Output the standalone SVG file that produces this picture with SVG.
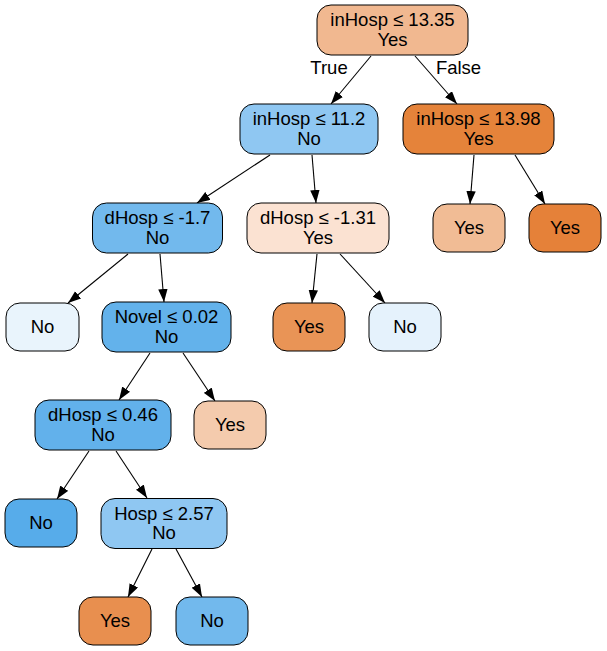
<svg xmlns="http://www.w3.org/2000/svg" width="607" height="651" viewBox="0 0 607 651">
<style>
.n rect{stroke:#000;stroke-width:1}
text{font-family:"Liberation Sans",Arial,sans-serif;font-size:18.5px;fill:#000;text-anchor:middle}
.e line{stroke:#000;stroke-width:1.1;marker-end:url(#ah)}
</style>
<defs>
<marker id="ah" markerUnits="userSpaceOnUse" markerWidth="14" markerHeight="10" refX="13" refY="4.7" orient="auto">
<path d="M0,0 L13,4.7 L0,9.4 z" fill="#000"/>
</marker>
</defs>
<rect width="607" height="651" fill="#fff"/>
<g id="edges" class="e">
<line x1="371" y1="56" x2="331" y2="104"/>
<line x1="415" y1="56" x2="457" y2="104"/>
<line x1="270" y1="155" x2="197" y2="203"/>
<line x1="312" y1="155" x2="316" y2="203"/>
<line x1="474" y1="155" x2="470" y2="204"/>
<line x1="515" y1="155" x2="545" y2="204"/>
<line x1="128" y1="254" x2="68" y2="303"/>
<line x1="160" y1="254" x2="164" y2="302"/>
<line x1="317" y1="254" x2="312" y2="303"/>
<line x1="340" y1="254" x2="385" y2="303"/>
<line x1="150" y1="353" x2="119" y2="400"/>
<line x1="183" y1="353" x2="215" y2="401"/>
<line x1="89" y1="451" x2="57" y2="499"/>
<line x1="116" y1="451" x2="147" y2="498"/>
<line x1="152" y1="549" x2="128" y2="597"/>
<line x1="176" y1="549" x2="202" y2="597"/>
<text x="329" y="74">True</text>
<text x="458.5" y="74">False</text>
</g>
<g id="n0" class="n"><rect x="317" y="5" width="151" height="50" rx="14" fill="#f1b890"/><text x="392.5" y="26">inHosp ≤ 13.35</text><text x="392.5" y="45.5">Yes</text></g>
<g id="n1" class="n"><rect x="240" y="104" width="138" height="50" rx="14" fill="#8fc7f2"/><text x="309" y="125">inHosp ≤ 11.2</text><text x="309" y="144.5">No</text></g>
<g id="n2" class="n"><rect x="403" y="104" width="151" height="50" rx="14" fill="#e5833a"/><text x="478.5" y="125">inHosp ≤ 13.98</text><text x="478.5" y="144.5">Yes</text></g>
<g id="n3" class="n"><rect x="92.5" y="203" width="130" height="50" rx="14" fill="#72b9ed"/><text x="157.5" y="224">dHosp ≤ -1.7</text><text x="157.5" y="243.5">No</text></g>
<g id="n4" class="n"><rect x="247" y="203" width="142" height="50" rx="14" fill="#fbe2d2"/><text x="318" y="224">dHosp ≤ -1.31</text><text x="318" y="243.5">Yes</text></g>
<g id="n5" class="n"><rect x="433" y="204" width="72" height="48" rx="14" fill="#f1bc95"/><text x="469" y="233.5">Yes</text></g>
<g id="n6" class="n"><rect x="529" y="204" width="72" height="48" rx="14" fill="#e58139"/><text x="565" y="233.5">Yes</text></g>
<g id="n7" class="n"><rect x="6" y="303" width="73" height="48" rx="14" fill="#e9f4fc"/><text x="42.5" y="332.5">No</text></g>
<g id="n8" class="n"><rect x="102" y="302" width="129" height="50" rx="14" fill="#63b2eb"/><text x="166.5" y="323">Novel ≤ 0.02</text><text x="166.5" y="342.5">No</text></g>
<g id="n9" class="n"><rect x="273" y="303" width="72" height="48" rx="14" fill="#e99456"/><text x="309" y="332.5">Yes</text></g>
<g id="n10" class="n"><rect x="369" y="303" width="72" height="48" rx="14" fill="#e5f2fc"/><text x="405" y="332.5">No</text></g>
<g id="n11" class="n"><rect x="35" y="400" width="136" height="50" rx="14" fill="#62b1eb"/><text x="103" y="421">dHosp ≤ 0.46</text><text x="103" y="440.5">No</text></g>
<g id="n12" class="n"><rect x="194" y="401" width="72" height="48" rx="14" fill="#f4cbad"/><text x="230" y="430.5">Yes</text></g>
<g id="n13" class="n"><rect x="5" y="499" width="72" height="48" rx="14" fill="#57acea"/><text x="41" y="528.5">No</text></g>
<g id="n14" class="n"><rect x="101" y="498.5" width="126" height="50" rx="14" fill="#8fc7f2"/><text x="164" y="519.5">Hosp ≤ 2.57</text><text x="164" y="539">No</text></g>
<g id="n15" class="n"><rect x="79" y="597" width="72" height="48" rx="14" fill="#e88f4f"/><text x="115" y="626.5">Yes</text></g>
<g id="n16" class="n"><rect x="176" y="597" width="72" height="48" rx="14" fill="#72b9ed"/><text x="212" y="626.5">No</text></g>
</svg>
